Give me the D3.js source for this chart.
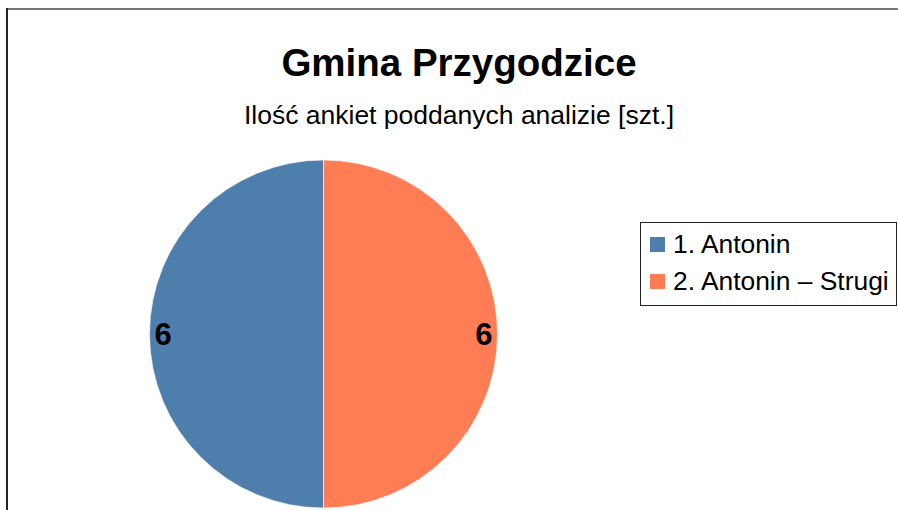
<!DOCTYPE html>
<html>
<head>
<meta charset="utf-8">
<script src="https://cdn.jsdelivr.net/npm/d3@7"></script>
<style>
  html, body { margin: 0; padding: 0; background: #fff; }
  svg { display: block; font-family: "Liberation Sans", Arial, sans-serif; }
</style>
</head>
<body>
<svg id="chart" width="898" height="510"></svg>
<script>
const categories = ["1. Antonin", "2. Antonin – Strugi"];
const values = [6, 6];
const colors = ["#4e7eac", "#ff7d55"];
const title = "Gmina Przygodzice";
const subtitle = "Ilość ankiet poddanych analizie [szt.]";

const svg = d3.select("#chart");

// frame (only top and left edges visible)
svg.append("line").attr("x1", 6).attr("x2", 898).attr("y1", 9).attr("y2", 9)
  .attr("stroke", "#777").attr("stroke-width", 2);
svg.append("line").attr("x1", 7).attr("x2", 7).attr("y1", 8).attr("y2", 510)
  .attr("stroke", "#222").attr("stroke-width", 2);

svg.append("text").attr("x", 459).attr("y", 76).attr("text-anchor", "middle")
  .attr("font-size", 38.5).attr("font-weight", "bold").attr("fill", "#000").text(title);
svg.append("text").attr("x", 459).attr("y", 124).attr("text-anchor", "middle")
  .attr("font-size", 26.5).attr("fill", "#000").text(subtitle);

const cx = 323.5, cy = 334, r = 174;
const pie = d3.pie().sort(null);
const arcs = pie(values);
// first slice drawn counter-clockwise from the top, so it lands on the left
const ccw = arcs.map(d => ({ ...d, startAngle: -d.endAngle, endAngle: -d.startAngle }));
const arc = d3.arc().innerRadius(0).outerRadius(r);
const g = svg.append("g").attr("transform", `translate(${cx},${cy})`);

g.selectAll("path").data(ccw).enter().append("path")
  .attr("d", arc)
  .attr("fill", (d, i) => colors[i])
  .attr("stroke", "#fff").attr("stroke-width", 0.6);

// value labels just inside the outer edge
const lr = r - 5;
const mid = d => (d.startAngle + d.endAngle) / 2;
g.selectAll("text.val").data(ccw).enter().append("text")
  .attr("class", "val")
  .attr("x", d => Math.sin(mid(d)) * lr)
  .attr("y", d => -Math.cos(mid(d)) * lr)
  .attr("dy", "0.36em")
  .attr("text-anchor", d => (Math.sin(mid(d)) < 0 ? "start" : "end"))
  .attr("font-size", 31).attr("font-weight", "bold").attr("fill", "#000")
  .text(d => d.data);

// legend
const legend = svg.append("g");
legend.append("rect").attr("x", 640.5).attr("y", 222.5).attr("width", 256).attr("height", 83)
  .attr("fill", "#fff").attr("stroke", "#222").attr("stroke-width", 1);
const item = legend.selectAll("g.item").data(categories).enter().append("g")
  .attr("class", "item")
  .attr("transform", (d, i) => `translate(650,${237 + i * 37})`);
item.append("rect").attr("width", 15).attr("height", 15).attr("fill", (d, i) => colors[i]);
item.append("text").attr("x", 23).attr("y", 16).attr("font-size", 26.4).attr("fill", "#000")
  .text(d => d);
</script>
</body>
</html>
